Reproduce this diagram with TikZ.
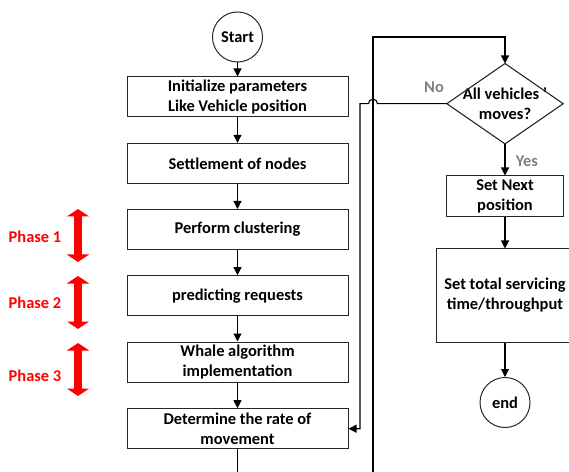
\documentclass[tikz,border=0pt]{standalone}
\usepackage{fontspec}
\setmainfont{Carlito}
\usetikzlibrary{arrows.meta,calc}

\begin{document}
\begin{tikzpicture}[x=1bp,y=1bp,
    every node/.style={font=\fontsize{16.5}{20}\selectfont\bfseries,align=center},
    box/.style={draw=black!85,line width=1bp,minimum width=221bp,minimum height=40bp,inner sep=1bp},
    term/.style={draw=black!85,line width=1bp,circle,minimum size=50bp,inner sep=0pt},
    decbox/.style={minimum width=116bp,minimum height=80bp,inner sep=0pt},
    wire/.style={line width=1.1bp},
    arr/.style={wire,arrows={-Triangle[width=8bp,length=8bp]}},
    choice/.style={text=gray},
    phasearr/.style={red,line width=8.5bp,arrows={Triangle[width=22bp,length=7.5bp]-Triangle[width=22bp,length=7.5bp]}},
    phaselbl/.style={text=red}]
    \useasboundingbox (0,0) rectangle (569,-472);

    % main column
    \node[term] (start) at (237.5,-37) {Start};
    \node[box] (init) at (237.5,-97) {Initialize parameters\\Like Vehicle position};
    \node[box] (settle) at (237.5,-163.3) {Settlement of nodes};
    \node[box] (cluster) at (237.5,-229.5) {Perform clustering};
    \node[box] (predict) at (237.5,-295.7) {predicting requests};
    \node[box] (whale) at (237.5,-362) {Whale algorithm\\implementation};
    \node[box] (move) at (237.5,-428.7) {Determine the rate of\\movement};
    \foreach \a/\b in {start/init,init/settle,settle/cluster,cluster/predict,predict/whale,whale/move}
        \draw[arr] (\a) -- (\b);
    \coordinate (exit) at (237.5,-472);
    \draw[wire] (move.south) -- (exit);

    % phases
    \foreach \i/\t/\l in {1/209/237,2/276/303,3/343/376} {
        \draw[phasearr] (78,-\t) -- (78,-\t-53);
        \node[phaselbl] (phase\i) at (35,-\l) {Phase \i};
    }

    % decision column
    \node[decbox] (dec) at (505,-103.7) {All vehicles '\\moves?};
    \draw[wire,draw=black!85] (dec.north) -- (dec.east) -- (dec.south) -- (dec.west) -- cycle;
    \node[box,minimum width=117bp,minimum height=41bp] (next) at (505,-196.5) {Set Next\\position};
    \node[box,minimum width=138bp,minimum height=93bp] (total) at (505,-295.5) {Set total servicing\\time/throughput};
    \node[term] (stop) at (505,-402.5) {end};
    \foreach \a/\b in {dec/next,next/total,total/stop}
        \draw[arr] (\a) -- (\b);
    \node[choice] (no) at (434,-87) {No};
    \node[choice] (yes) at (527,-161) {Yes};

    % loop back
    \coordinate (lbot) at (373,-472);
    \coordinate (ltop) at (373,-37);
    \coordinate (nx) at (360,0);
    \draw[arr] (lbot) -- (ltop) -| (dec.north);
    \draw[arr] (dec.west) -- ($(lbot |- dec.west)+(4.5,0)$)
        arc[start angle=0,end angle=180,radius=4.5] -- (nx |- dec.west) |- (move.east);
\end{tikzpicture}
\end{document}
